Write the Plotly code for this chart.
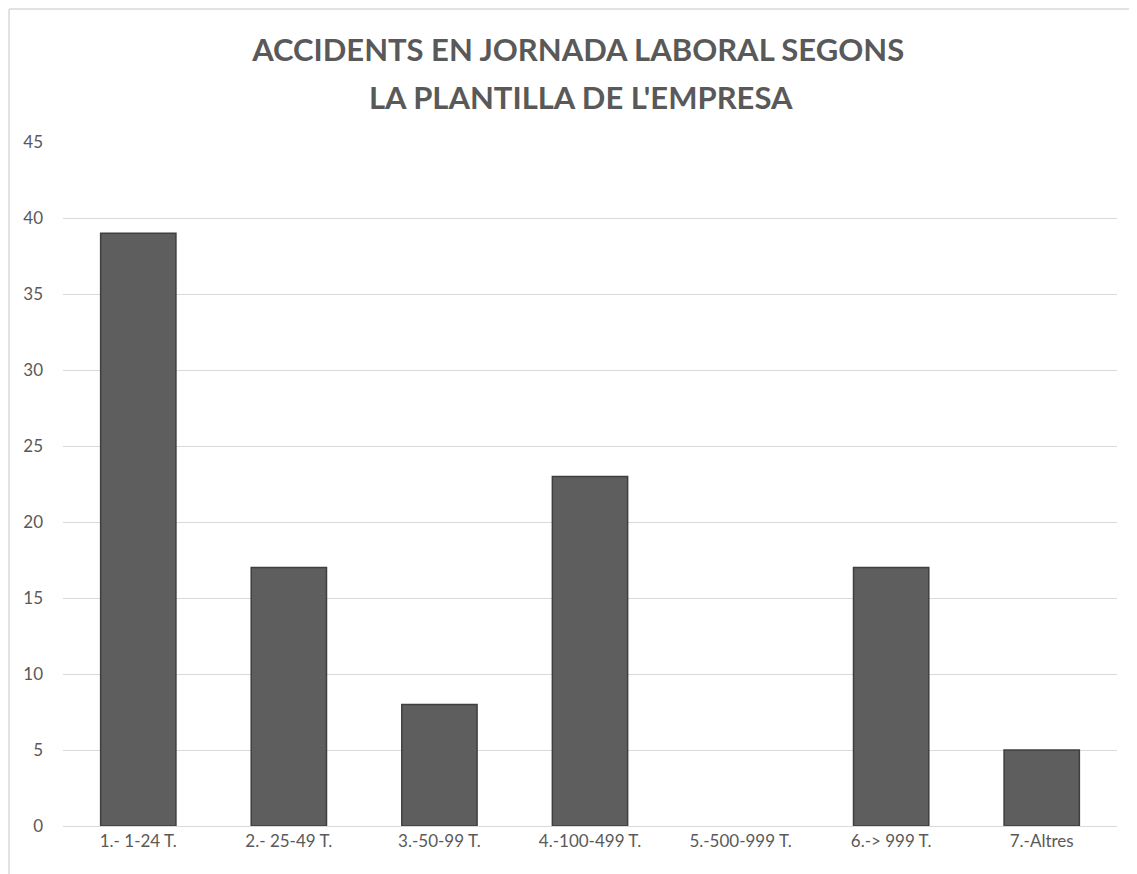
import plotly.graph_objects as go

categorias = ["1.- 1-24 T.", "2.- 25-49 T.", "3.-50-99 T.", "4.-100-499 T.",
              "5.-500-999 T.", "6.-> 999 T.", "7.-Altres"]
accidents = [39, 17, 8, 23, 0, 17, 5]
ticks_y = [0, 5, 10, 15, 20, 25, 30, 35, 40, 45]

GRIS_TEXT = "#595959"
FONT = "Lato, 'Open Sans', sans-serif"

fig = go.Figure()
fig.add_trace(go.Bar(
    x=categorias, y=accidents,
    marker=dict(color="#5e5e5e",
                line=dict(color="#3f3f3f", width=[1.5 if v else 0 for v in accidents])),
    width=0.5,
    hovertemplate="<b>%{x}</b><br>Accidents: %{y}<extra></extra>",
))

# el navegador deja 8px de margen al body, por eso 1129x866
fig.update_layout(
    width=1129, height=866,
    paper_bgcolor="white", plot_bgcolor="white",
    font=dict(family=FONT, color=GRIS_TEXT, size=17),
    title=dict(
        text="ACCIDENTS EN JORNADA LABORAL SEGONS",
        x=0.505, xanchor="center", y=1 - 42 / 866, yanchor="middle",
        font=dict(family=FONT, size=31, color=GRIS_TEXT, weight="bold"),
    ),
    annotations=[dict(
        text="LA PLANTILLA DE L'EMPRESA", xref="paper", yref="paper",
        x=0.4915, xanchor="center", y=1 + (134 - 89) / 684, yanchor="middle",
        showarrow=False, font=dict(family=FONT, size=31, color=GRIS_TEXT, weight="bold"),
    )],
    margin={"l": 55, "r": 20, "t": 134, "b": 48},
    showlegend=False,
    xaxis=dict(showgrid=False, showline=True, linecolor="#d9d9d9", linewidth=1,
               ticks="", tickfont=dict(size=17, color=GRIS_TEXT), fixedrange=True),
    yaxis=dict(range=[0, 45], tickvals=ticks_y, showgrid=True, gridcolor="#d9d9d9",
               gridwidth=1, zeroline=False, showline=False, ticks="",
               ticklabelstandoff=19,
               tickfont=dict(size=17, color=GRIS_TEXT), fixedrange=True),
    shapes=[
        dict(type="line", xref="paper", yref="paper", x0=-0.0512, x1=1.02, y0=1.1945, y1=1.1945,
             line=dict(color="#d9d9d9", width=1.5)),
        dict(type="line", xref="paper", yref="paper", x0=-0.0512, x1=-0.0512, y0=1.1945, y1=-0.08,
             line=dict(color="#d9d9d9", width=1.5)),
    ],
)

fig.write_html("out.html")
